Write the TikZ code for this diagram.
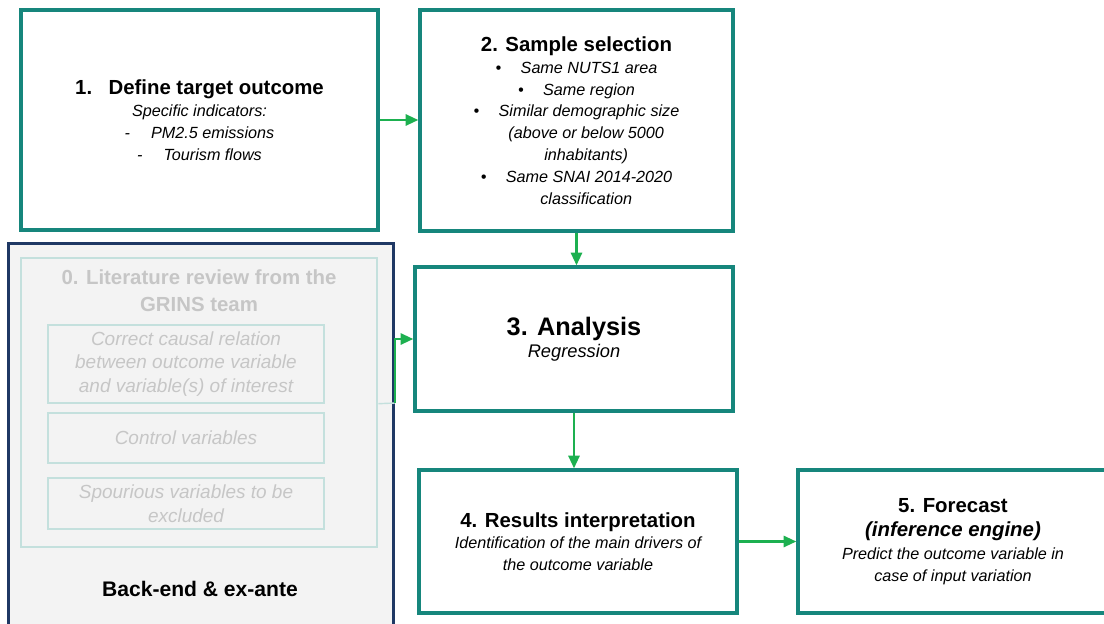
\documentclass[tikz,border=0pt]{standalone}
\usepackage{fontspec}
\setmainfont{Liberation Sans}
\usepackage{xcolor}
\usepackage{tikz}
\usetikzlibrary{arrows.meta}

\definecolor{boxteal}{HTML}{16867C}
\definecolor{arrgreen}{HTML}{1DB050}
\definecolor{navyline}{HTML}{1F3864}
\definecolor{backfill}{HTML}{F3F3F3}
\definecolor{litteal}{HTML}{C4E0DD}
\definecolor{litgray}{HTML}{C6C6C6}

\tikzset{
  stepbox/.style={draw=boxteal,line width=2.4pt,fill=white,align=center,inner sep=0pt,
    font=\fontsize{11.5}{15.5}\selectfont},
  subbox/.style={draw=litteal,line width=1pt,align=center,inner sep=0pt,text=litgray,
    minimum width=6.9cm,font=\itshape\fontsize{13.5}{17}\selectfont},
  conn/.style={draw=arrgreen,line width=1.5pt,-{Triangle[length=9pt,width=8pt]}}
}
\newcommand{\steptitle}[1]{{\bfseries\fontsize{14.5}{17.5}\selectfont #1}}

\begin{document}
\begin{tikzpicture}[x=0.025cm,y=-0.025cm]
\useasboundingbox (0,0) rectangle (1104,624);
\clip (0,0) rectangle (1104,624);

% back-end part
\node[draw=navyline,line width=2.2pt,fill=backfill,minimum width=9.6cm,minimum height=9.65cm] (backend) at (201,437) {};
\node[draw=litteal,line width=1.8pt,minimum width=8.9cm,minimum height=7.225cm] (lit) at (199,402.5) {};
\node[text=litgray,align=center,font=\bfseries\fontsize{14.5}{19}\selectfont] (littitle) at (199,291) {0. Literature review from the\\GRINS team};
\node[subbox,minimum height=1.95cm] (causal) at (186,364) {Correct causal relation\\between outcome variable\\and variable(s) of interest};
\node[subbox,minimum height=1.25cm] (control) at (186,438) {Control variables};
\node[subbox,minimum height=1.275cm] (spurious) at (186,503.5) {Spourious variables to be\\excluded};
\node[font=\bfseries\fontsize{15}{18}\selectfont] (backlabel) at (200,589) {Back-end \& ex-ante};

% steps
\node[stepbox,minimum width=8.925cm,minimum height=5.5cm] (define) at (199.5,120)
  {\steptitle{1.\hspace{0.8em}Define target outcome}\\ \itshape Specific indicators:\\ \itshape -\hspace{1.3em}PM2.5 emissions\\ \itshape -\hspace{1.3em}Tourism flows};
\node[stepbox,minimum width=7.825cm,minimum height=5.525cm] (sample) at (576.5,120.5)
  {\steptitle{2. Sample selection}\\ \itshape\textbullet\hspace{1.2em}Same NUTS1 area\\ \itshape\textbullet\hspace{1.2em}Same region\\
   \itshape\textbullet\hspace{1.2em}Similar demographic size\\ \itshape\hspace{1.2em}(above or below 5000\\ \itshape\hspace{1.2em}inhabitants)\\
   \itshape\textbullet\hspace{1.2em}Same SNAI 2014-2020\\ \itshape\hspace{1.2em}classification};
\node[stepbox,minimum width=7.95cm,minimum height=3.6cm] (analysis) at (574,339)
  {{\bfseries\fontsize{18}{22}\selectfont 3. Analysis}\\ \itshape\fontsize{13}{16}\selectfont Regression};
\node[stepbox,minimum width=7.95cm,minimum height=3.575cm] (results) at (578,541.5)
  {\steptitle{4. Results interpretation}\\ \itshape Identification of the main drivers of\\ \itshape the outcome variable};
\node[stepbox,minimum width=7.75cm,minimum height=3.575cm] (forecast) at (953,541.5)
  {\steptitle{5. Forecast}\\[2pt] {\bfseries\itshape\fontsize{14.5}{18.5}\selectfont (inference engine)}\\[1pt] \itshape Predict the outcome variable in\\ \itshape case of input variation};

% connectors
\coordinate (elbow) at (395,403);
\draw[litteal,line width=1pt] (lit.east |- causal.south) -- (elbow);
\draw[conn] (elbow) |- (analysis.west);
\draw[conn] (define.east) -- (define.east -| sample.west);
\draw[conn] (sample.south) -- (sample.south |- analysis.north);
\draw[conn] (analysis.south) -- (analysis.south |- results.north);
\draw[conn] (results.east) -- (forecast.west);
\end{tikzpicture}
\end{document}
